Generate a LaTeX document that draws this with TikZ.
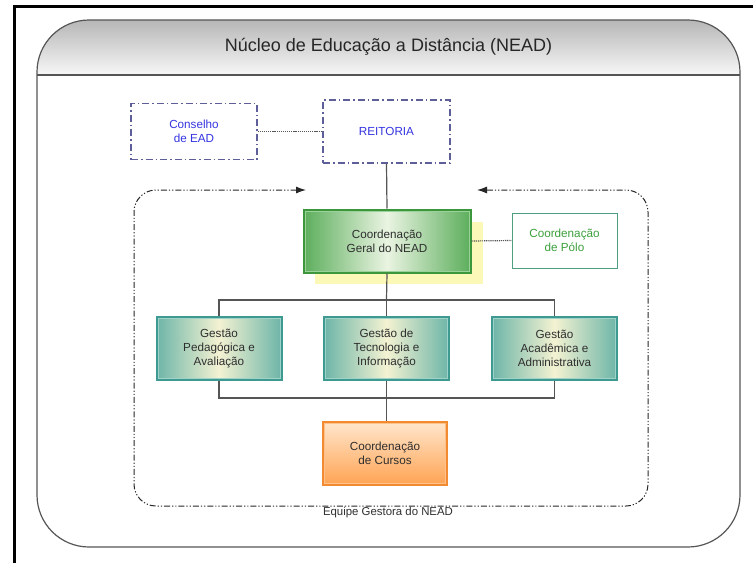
\documentclass[tikz,border=0pt]{standalone}
\usepackage{fontspec}
\setmainfont{Liberation Sans}
\usetikzlibrary{arrows.meta}
\definecolor{frameblack}{HTML}{000000}
\definecolor{outline}{HTML}{555555}
\definecolor{headtop}{HTML}{B4B4B4}
\definecolor{dashblue}{HTML}{5E5E98}
\definecolor{txtblue}{HTML}{3434E0}
\definecolor{tealdark}{HTML}{3E9A90}
\definecolor{teallight}{HTML}{9FD2C8}
\definecolor{tealfill}{HTML}{6DB5A8}
\definecolor{creamfill}{HTML}{F4F2D2}
\definecolor{greendark}{HTML}{3C963C}
\definecolor{greenlight}{HTML}{9AD29A}
\definecolor{greenfill}{HTML}{5CAE5C}
\definecolor{greenpale}{HTML}{EAF4E2}
\definecolor{shadowyel}{HTML}{FCF8B8}
\definecolor{polo}{HTML}{4E9E80}
\definecolor{polotxt}{HTML}{3CA03C}
\definecolor{orangedark}{HTML}{F28A32}
\definecolor{orangelight}{HTML}{FFC08A}
\definecolor{orangetop}{HTML}{FFE6CC}
\definecolor{orangebot}{HTML}{FFA352}
\definecolor{textgray}{HTML}{2E2E2E}
\begin{document}
\begin{tikzpicture}[x=1pt,y=-1pt,
  boxfont/.style={font=\fontsize{11.7}{14}\selectfont},
  blueboxstyle/.style={draw=dashblue, line width=1.3pt, boxfont, text=txtblue, align=center,
     dash pattern=on 7pt off 3pt on 1.5pt off 3pt, inner sep=0pt},
  tealbox/.style={draw=tealdark, line width=2pt, left color=tealfill, right color=tealfill,
     middle color=creamfill, boxfont, text=textgray, align=center, inner sep=0pt,
     minimum width=125pt, minimum height=63pt},
  conn/.style={draw=outline, line width=1.2pt},
  dotconn/.style={draw=outline, line width=1.2pt, dash pattern=on 1.2pt off 0.9pt},
  region/.style={draw=black!85, line width=1pt,
     dash pattern=on 6pt off 2pt on 1.2pt off 2pt on 1.2pt off 2pt},
]
\useasboundingbox (0,0) rectangle (753,563);
% black frame
\draw[line width=2.6pt, frameblack] (14.5,563) -- (14.5,6.3) -- (753,6.3);
% outer rounded panel with header
\begin{scope}
  \clip[rounded corners=52pt] (37,20) rectangle (740,547);
  \shade[top color=headtop, bottom color=white!97!black] (30,18) rectangle (745,75);
\end{scope}
\draw[outline, line width=1.2pt, rounded corners=52pt] (37,20) rectangle (740,547);
\draw[outline, line width=1.2pt] (37,75) -- (740,75);
\node[font=\fontsize{18}{21}\selectfont, text=black!85] (title) at (388.5,47) {Núcleo de Educação a Distância (NEAD)};

% top boxes
\node[blueboxstyle, minimum width=126pt, minimum height=56pt] (cons) at (194,131.5) {Conselho\\de EAD};
\node[blueboxstyle, minimum width=127pt, minimum height=63pt] (reit) at (386.5,131.5) {REITORIA};
\draw[dotconn] (cons.east) -- (reit.west);

% region
\draw[region, rounded corners=22pt, {Latex[length=10pt,width=7pt]}-{Latex[length=10pt,width=7pt]}]
  (306,190) -- (134,190) -- (134,506) -- (648,506) -- (648,190) -- (477,190);
\node[font=\fontsize{11.4}{13}\selectfont, text=textgray] (equipe) at (388,513) {Equipe Gestora do NEAD};

% coordination geral
\fill[shadowyel] (315,222) rectangle (483,284);
\node[draw=greendark, line width=2pt, left color=greenfill, right color=greenfill, middle color=greenpale,
  boxfont, text=textgray, align=center, inner sep=0pt, minimum width=167pt, minimum height=63pt]
  (geral) at (387,241) {Coordenação\\Geral do NEAD};
\draw[greenlight, line width=0.8pt] ([xshift=2.5pt,yshift=-2.5pt]geral.north west) rectangle ([xshift=-2.5pt,yshift=2.5pt]geral.south east);
\node[draw=polo, line width=1pt, fill=white, boxfont, text=polotxt, align=center, inner sep=0pt,
  minimum width=105pt, minimum height=55pt] (polo) at (564.5,240.5) {Coordenação\\de Pólo};
\draw[dotconn] (geral.east) -- (polo.west);
\draw[conn] (reit.south) -- (geral.north);

% gestao boxes
\node[tealbox] (gp) at (219,348.5) {Gestão\\Pedagógica e\\Avaliação};
\node[tealbox] (gt) at (386.5,348.5) {Gestão de\\Tecnologia e\\Informação};
\node[tealbox] (ga) at (554.5,348.5) {Gestão\\Acadêmica e\\Administrativa};
\foreach \n in {gp,gt,ga}{
  \draw[teallight, line width=0.8pt] ([xshift=2.5pt,yshift=-2.5pt]\n.north west) rectangle ([xshift=-2.5pt,yshift=2.5pt]\n.south east);
}
\coordinate (bartop) at (386.5,300);
\coordinate (barbot) at (386.5,398);
\draw[conn] (geral.south) -- (bartop);
\draw[conn] (gp.north) -- (gp.north |- bartop) -- (ga.north |- bartop) -- (ga.north);
\draw[conn] (gt.north) -- (bartop);
\draw[conn] (gp.south) -- (gp.south |- barbot) -- (ga.south |- barbot) -- (ga.south);
\draw[conn] (gt.south) -- (barbot);

% cursos
\node[draw=orangedark, line width=2pt, top color=orangetop, bottom color=orangebot,
  boxfont, text=textgray, align=center, inner sep=0pt, minimum width=124pt, minimum height=63pt]
  (cursos) at (385,453.5) {Coordenação\\de Cursos};
\draw[orangelight, line width=0.8pt] ([xshift=2.5pt,yshift=-2.5pt]cursos.north west) rectangle ([xshift=-2.5pt,yshift=2.5pt]cursos.south east);
\draw[conn] (barbot) -- (barbot |- cursos.north);
\end{tikzpicture}
\end{document}
